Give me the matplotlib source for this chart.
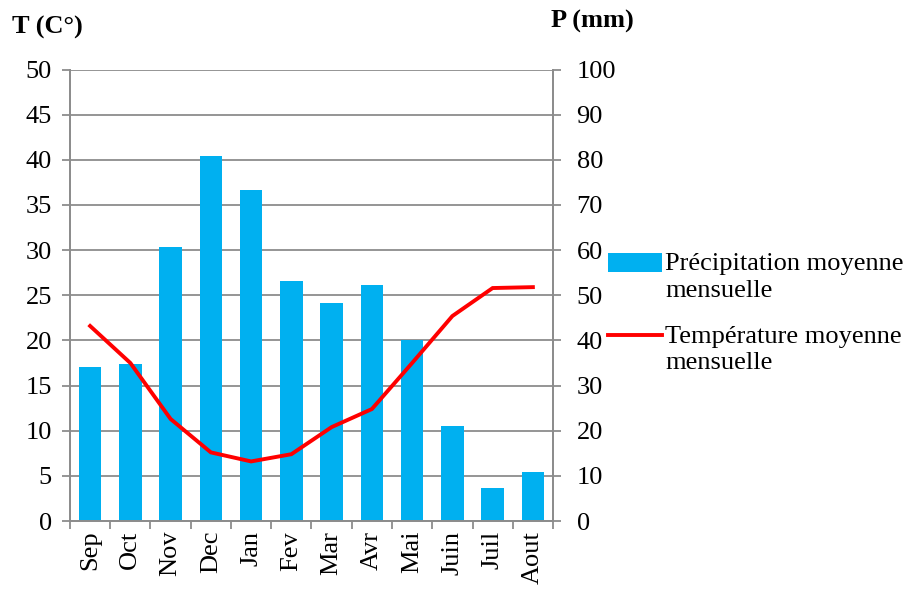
import matplotlib.pyplot as plt
import numpy as np

plt.rcParams['font.family'] = ['Liberation Serif', 'DejaVu Serif']

mois = ["Sep", "Oct", "Nov", "Dec", "Jan", "Fev", "Mar", "Avr", "Mai", "Juin", "Juil", "Aout"]
precipitation = [34.2, 34.8, 60.8, 80.9, 73.3, 53.2, 48.3, 52.3, 40.2, 21.1, 7.4, 10.9]
temperature = [21.6, 17.5, 11.3, 7.6, 6.6, 7.4, 10.4, 12.4, 17.5, 22.7, 25.8, 25.9]

gris = "#8c8c8c"
fs = 19

fig = plt.figure(figsize=(9.1, 5.89), dpi=100)
ax = fig.add_axes([0.0769, 0.1154, 0.5308, 0.7666])
ax2 = ax.twinx()

# barres sur l'axe de droite, courbe au-dessus sur l'axe de gauche
ax.set_zorder(ax2.get_zorder() + 1)
ax.patch.set_visible(False)

x = np.arange(len(mois))
bars = ax2.bar(x, precipitation, width=0.56, color="#00B0F0",
               label="Précipitation moyenne\nmensuelle")
ligne, = ax.plot(x, temperature, color="#FF0000", lw=2.8, solid_joinstyle="miter",
                 label="Température moyenne\nmensuelle")

ax.set_xlim(-0.5, len(mois) - 0.5)
ax.set_ylim(0, 50)
ax2.set_ylim(0, 100)
ax.set_yticks(np.arange(0, 51, 5))
ax2.set_yticks(np.arange(0, 101, 10))

ax2.set_axisbelow(True)
ax2.yaxis.grid(True, color=gris, lw=1.3)

ax.set_xticks(x)
ax.set_xticklabels(mois, rotation=90, fontsize=fs)
ax.set_xticks(np.arange(-0.5, len(mois)), minor=True)
ax.tick_params(axis="x", which="major", length=0, pad=7)
ax.tick_params(axis="x", which="minor", length=6, color=gris, width=1.3)
ax.tick_params(axis="y", labelsize=fs, length=6, color=gris, width=1.3, pad=7)
ax2.tick_params(axis="y", labelsize=fs, length=6, color=gris, width=1.3, pad=11)

for a in (ax, ax2):
    a.spines["top"].set_visible(False)
    for cote in ("left", "right", "bottom"):
        a.spines[cote].set_color(gris)
        a.spines[cote].set_linewidth(1.3)

fig.text(0.013, 0.954, "T (C°)", fontsize=fs, fontweight="bold", va="center", ha="left")
fig.text(0.606, 0.963, "P (mm)", fontsize=fs, fontweight="bold", va="center", ha="left")

leg = fig.legend([bars, ligne], [bars.get_label(), ligne.get_label()],
                 loc="upper left", bbox_to_anchor=(0.668, 0.57), frameon=False,
                 fontsize=fs, handlelength=2.05, handletextpad=0.12, labelspacing=0.93,
                 borderaxespad=0, borderpad=0)
for t in leg.get_texts():
    t.set_linespacing(1.25)
for col in leg._legend_handle_box.get_children():
    for item in col.get_children():
        item.align = "top"

fig.savefig("out.png", dpi=100)
